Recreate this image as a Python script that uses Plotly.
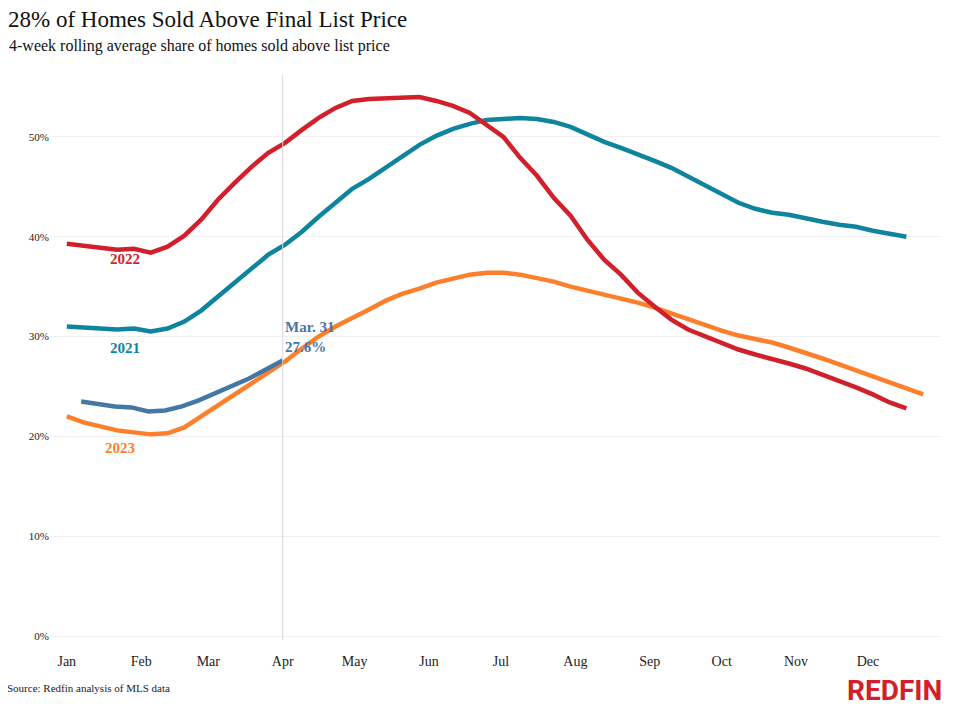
import plotly.graph_objects as go
import pandas as pd

# weekly values, share of homes sold above list price (%)
vals_2022 = [39.3, 39.1, 38.9, 38.7, 38.8, 38.4, 39.0, 40.1, 41.7, 43.7, 45.4, 47.0, 48.4,
             49.4, 50.7, 51.9, 52.9, 53.6, 53.8, 53.9, 53.9, 54.0, 53.6, 53.1, 52.4, 51.2,
             50.0, 47.9, 46.1, 43.9, 42.1, 39.7, 37.7, 36.2, 34.4, 33.0, 31.7, 30.7, 30.0,
             29.3, 28.7, 28.2, 27.8, 27.3, 26.8, 26.2, 25.6, 24.9, 24.2, 23.4, 22.8]
vals_2021 = [31.0, 30.9, 30.8, 30.7, 30.8, 30.5, 30.8, 31.5, 32.6, 34.0, 35.5, 36.8, 38.2,
             39.2, 40.5, 42.0, 43.4, 44.8, 45.8, 46.9, 48.0, 49.2, 50.1, 50.8, 51.3, 51.7,
             51.8, 51.9, 51.8, 51.5, 51.0, 50.2, 49.5, 48.9, 48.3, 47.6, 46.9, 46.0, 45.2,
             44.2, 43.4, 42.8, 42.4, 42.2, 41.8, 41.5, 41.2, 41.0, 40.6, 40.3, 40.0]
vals_2023_orange = [22.0, 21.4, 21.0, 20.6, 20.4, 20.2, 20.3, 20.9, 22.0, 23.1, 24.2, 25.4,
                    26.5, 27.5, 28.8, 30.0, 31.0, 31.8, 32.7, 33.6, 34.3, 34.8, 35.4, 35.8,
                    36.2, 36.4, 36.4, 36.2, 35.9, 35.5, 35.0, 34.6, 34.2, 33.9, 33.4, 32.9,
                    32.3, 31.7, 31.1, 30.6, 30.1, 29.8, 29.4, 28.9, 28.4, 27.8, 27.2, 26.6,
                    25.9, 25.3, 24.8, 24.2]
vals_current = [23.5, 23.2, 23.0, 22.9, 22.5, 22.6, 23.0, 23.6, 24.3, 25.0, 25.8, 26.7, 27.6]

month_labels = ["Jan", "Feb", "Mar", "Apr", "May", "Jun", "Jul", "Aug", "Sep", "Oct", "Nov", "Dec"]
y_ticks = [0, 10, 20, 30, 40, 50]

RED, TEAL, ORANGE, BLUE = "#d11f2b", "#0e849e", "#fd7f2b", "#4477a5"
SERIF = "Liberation Serif, Times New Roman, serif"


def weeks(start, n):
    return pd.date_range(start, periods=n, freq="7D")


fig = go.Figure()
series = [
    (weeks("2021-01-01", len(vals_2021)), vals_2021, TEAL),
    (weeks("2021-01-01", len(vals_2023_orange)), vals_2023_orange, ORANGE),
    (weeks("2021-01-01", len(vals_2022)), vals_2022, RED),
    (weeks("2021-01-07", len(vals_current)), vals_current, BLUE),
]
for x, y, c in series:
    fig.add_trace(go.Scatter(x=x, y=y, mode="lines", line=dict(color=c, width=4.5),
                             hoverinfo="skip", showlegend=False))

fig.add_vline(x="2021-04-01", line=dict(color="#d8d8d8", width=1))

for x, y, txt, c in [("2021-01-18", 37.8, "2022", RED), ("2021-01-18", 28.9, "2021", TEAL),
                     ("2021-01-16", 18.8, "2023", ORANGE)]:
    fig.add_annotation(x=x, y=y, text=f"<b>{txt}</b>", font=dict(color=c, family=SERIF, size=15),
                       showarrow=False, xanchor="left")
fig.add_annotation(x="2021-04-01", y=30.0, text="<b>Mar. 31<br>27.6%</b>",
                   font=dict(color=BLUE, family=SERIF, size=15),
                   showarrow=False, xanchor="left", align="left")

fig.add_annotation(x=0, y=1.073, xref="paper", yref="paper", xanchor="left", yanchor="bottom",
                   xshift=-44, showarrow=False, text="28% of Homes Sold Above Final List Price",
                   font=dict(family=SERIF, size=23, color="#111"))
fig.add_annotation(x=0, y=1.032, xref="paper", yref="paper", xanchor="left", yanchor="bottom",
                   xshift=-43, showarrow=False,
                   text="4-week rolling average share of homes sold above list price",
                   font=dict(family=SERIF, size=16, color="#111"))
fig.add_annotation(x=0, y=-0.085, xref="paper", yref="paper", xanchor="left", yanchor="middle",
                   xshift=-45, showarrow=False, text="Source: Redfin analysis of MLS data",
                   font=dict(family=SERIF, size=11, color="#222"))
fig.add_annotation(x=1, y=-0.09, xref="paper", yref="paper", xanchor="right", yanchor="middle",
                   xshift=4, showarrow=False, text="<b>REDFIN</b>",
                   font=dict(family="Liberation Sans Narrow, Roboto", size=28, color=RED))

fig.update_layout(
    width=948, height=709,
    paper_bgcolor="white", plot_bgcolor="white",
    margin=dict(l=42, r=16, t=67, b=77),
    font=dict(family=SERIF, color="#222"),
)
fig.update_xaxes(type="date", range=["2020-12-25", "2021-12-31"],
                 tickvals=pd.date_range("2021-01-01", periods=12, freq="MS"),
                 ticktext=month_labels, showgrid=False, zeroline=False,
                 tickfont=dict(family=SERIF, size=14), ticks="outside", ticklen=8,
                 tickcolor="rgba(0,0,0,0)", showline=False)
fig.update_yaxes(range=[-0.4, 56.2], tickvals=y_ticks, ticktext=[f"{v}%" for v in y_ticks],
                 showgrid=True, gridcolor="#f0f0f0", zeroline=False,
                 tickfont=dict(family=SERIF, size=11), ticks="")

fig.write_html("out.html")
